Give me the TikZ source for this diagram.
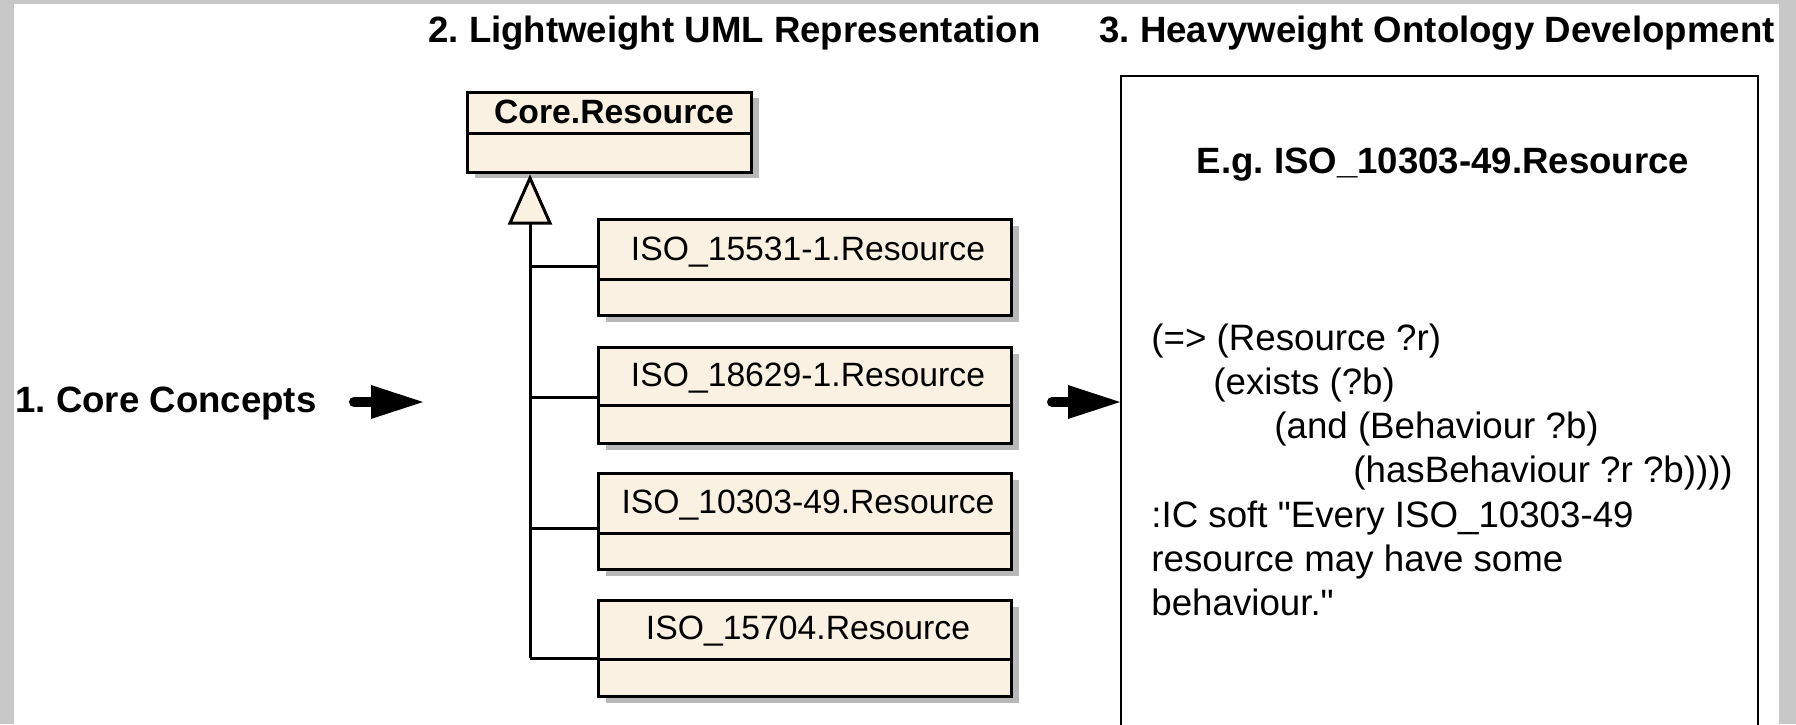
\documentclass[tikz,border=0pt]{standalone}
\usepackage{fontspec}
\setmainfont{Liberation Sans}
\usetikzlibrary{shadows,arrows.meta}
\definecolor{classfill}{RGB}{251,241,226}
\definecolor{framegrey}{RGB}{200,200,200}
\frenchspacing

\begin{document}
\begin{tikzpicture}[x=0.5pt,y=-0.5pt,
  heading/.style={font=\bfseries\fontsize{18.3pt}{22pt}\selectfont, inner sep=0pt, anchor=base west},
  codeline/.style={font=\fontsize{18.35pt}{22pt}\selectfont, inner sep=0pt, anchor=base west},
  classname/.style={font=\fontsize{16.85pt}{20pt}\selectfont, inner sep=0pt, anchor=base},
  classbox/.style={draw=black, line width=1.5pt, fill=classfill, inner sep=0pt,
    minimum width=206.5pt, minimum height=48pt,
    drop shadow={shadow xshift=3.5pt, shadow yshift=-3pt, fill=black!28, opacity=1}},
  conn/.style={line width=1.5pt},
  fatarrow/.style={line width=5pt, line cap=round,
    -{Triangle[length=26pt, width=17pt, line width=0pt]}},
]
\useasboundingbox (0,0) rectangle (1796,724);
\clip (0,0) rectangle (1796,724);

% framed page
\fill[framegrey] (0,0) rectangle (1796,724);
\fill[white] (14,4) rectangle (1779,730);

% column headings
\node[heading] (h2) at (428,42) {2. Lightweight UML Representation};
\node[heading] (h3) at (1099,42) {3. Heavyweight Ontology Development};
\node[heading] (h1) at (15,412) {1. Core Concepts};

% superclass
\node[classbox, minimum width=142pt, minimum height=40pt] (core) at (609.5,132) {};
\draw[conn] (core.west |- 0,133) -- (core.east |- 0,133);
\node[classname, font=\bfseries\fontsize{16.85pt}{20pt}\selectfont] (coret) at (614,123) {Core.Resource};

% subclasses
\node[classbox] (c1) at (805,267.5) {};
\node[classbox] (c2) at (805,395.5) {};
\node[classbox] (c3) at (805,521.5) {};
\node[classbox] (c4) at (805,648.5) {};
\draw[conn] (c1.west |- 0,279) -- (c1.east |- 0,279);
\draw[conn] (c2.west |- 0,405) -- (c2.east |- 0,405);
\draw[conn] (c3.west |- 0,533) -- (c3.east |- 0,533);
\draw[conn] (c4.west |- 0,659) -- (c4.east |- 0,659);
\node[classname] (c1t) at (808,260) {ISO\_15531-1.Resource};
\node[classname] (c2t) at (808,386) {ISO\_18629-1.Resource};
\node[classname] (c3t) at (808,513) {ISO\_10303-49.Resource};
\node[classname] (c4t) at (808,639) {ISO\_15704.Resource};

% generalisation tree
\coordinate (apex) at (530,178);
\coordinate (tbase) at (530,223);
\draw[conn, fill=classfill, line join=miter] (apex) -- (510,223) -- (550,223) -- cycle;
\draw[conn] (tbase) -- (530,658);
\draw[conn] (530,266) -- (c1.west |- 0,266);
\draw[conn] (530,397) -- (c2.west |- 0,397);
\draw[conn] (530,528) -- (c3.west |- 0,528);
\draw[conn] (530,658) -- (c4.west |- 0,658);

% ontology box
\node[draw=black, line width=1pt, inner sep=0pt, anchor=north west,
      minimum width=318.5pt, minimum height=360pt] (onto) at (1120,75) {};
\node[font=\bfseries\fontsize{18.3pt}{22pt}\selectfont, inner sep=0pt, anchor=base] (eg) at (1443,173) {E.g. ISO\_10303-49.Resource};
\node[codeline] (l1) at (1151,350) {(=> (Resource ?r)};
\node[codeline] (l2) at (1213,394) {(exists (?b)};
\node[codeline] (l3) at (1274,438) {(and (Behaviour ?b)};
\node[codeline] (l4) at (1353,482) {(hasBehaviour ?r ?b))))};
\node[codeline] (l5) at (1151,527) {:IC soft \textquotedbl Every ISO\_10303-49};
\node[codeline] (l6) at (1151,571) {resource may have some};
\node[codeline] (l7) at (1151,615) {behaviour.\textquotedbl};

% flow arrows
\coordinate (a1s) at (354,402);
\coordinate (a1e) at (423,402);
\draw[fatarrow] (a1s) -- (a1e);
\coordinate (a2s) at (1052,402);
\draw[fatarrow] (a2s) -- (onto.west |- a2s);
\end{tikzpicture}
\end{document}
